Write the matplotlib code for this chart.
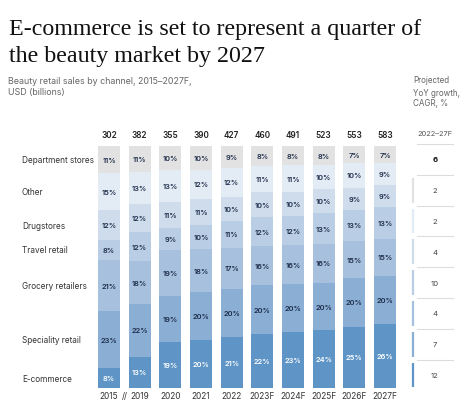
import numpy as np
import matplotlib.pyplot as plt
from matplotlib.lines import Line2D

# 데이터
years = ['2015', '2019', '2020', '2021', '2022', '2023F', '2024F', '2025F', '2026F', '2027F']
totals = [302, 382, 355, 390, 427, 460, 491, 523, 553, 583]

# 아래에서 위로 쌓는 순서
channels = ['E-commerce', 'Speciality retail', 'Grocery retailers', 'Travel retail',
            'Drugstores', 'Other', 'Department stores']
ecommerce = [8, 13, 19, 20, 21, 22, 23, 24, 25, 26]
speciality = [23, 22, 19, 20, 20, 20, 20, 20, 20, 20]
grocery = [21, 18, 19, 18, 17, 16, 16, 16, 15, 15]
travel = [8, 12, 9, 10, 11, 12, 12, 13, 13, 13]
drugstores = [12, 12, 11, 11, 10, 10, 10, 10, 9, 9]
other = [15, 13, 13, 12, 12, 11, 11, 10, 10, 9]
department = [11, 11, 10, 10, 9, 8, 8, 8, 7, 7]

# CAGR 2022-27F (위에서 아래: 전체, Department stores ... E-commerce)
cagr_total = 6
cagr = [2, 2, 4, 10, 4, 7, 12]

colors = ['#5f95c6', '#8aaed4', '#a6c0dd', '#b9cde4', '#cfdcec', '#e3ebf5', '#e2e2e2']
text_colors = ['white'] + ['#1c2b48'] * 6

W, H = 474, 410
fig = plt.figure(figsize=(W / 100, H / 100), dpi=100)
fig.patch.set_facecolor('white')

def fx(px):
    return px / W

def fy(py):
    return 1 - py / H

sans = ['Inter', 'DejaVu Sans']

# 제목
fig.text(fx(9), fy(35), 'E-commerce is set to represent a quarter of', family='Liberation Serif',
         fontsize=17.3, color='#111111', va='baseline')
fig.text(fx(9), fy(62), 'the beauty market by 2027', family='Liberation Serif',
         fontsize=17.3, color='#111111', va='baseline')
fig.text(fx(8), fy(82), 'Beauty retail sales by channel, 2015–2027F,', family=sans,
         fontsize=6.4, color='#666666', va='center')
fig.text(fx(8), fy(92), 'USD (billions)', family=sans, fontsize=6.4, color='#666666', va='center')
for txt, py in [('Projected', 81), ('YoY growth,', 93), ('CAGR, %', 104)]:
    fig.text(fx(413), fy(py), txt, family=sans, fontsize=5.8, color='#666666', va='center')

# 막대 차트
L, R = 93.7, 400.3
ax = fig.add_axes([fx(L), fy(389), (R - L) / W, (389 - 147) / H])
series = [ecommerce, speciality, grocery, travel, drugstores, other, department]
data = np.array(series, dtype=float)
shares = data / data.sum(axis=0) * 100
x = np.arange(len(years))
bottom = np.zeros(len(years))
for i in range(len(channels)):
    ax.bar(x, shares[i], 0.72, bottom=bottom, color=colors[i], linewidth=0)
    for j in range(len(years)):
        ax.text(x[j], bottom[j] + shares[i][j] / 2, f'{series[i][j]}%', ha='center', va='center',
                family=sans, fontsize=5.3, fontweight='semibold', color=text_colors[i])
    bottom += shares[i]

for j in range(len(years)):
    ax.text(x[j], 102.8, str(totals[j]), ha='center', va='bottom', family=sans,
            fontsize=5.9, fontweight='semibold', color='#222222')
    ax.text(x[j], -3.3, years[j], ha='center', va='center', family=sans,
            fontsize=6.0, color='#333333')
ax.text(0.5, -3.3, '//', ha='center', va='center', family=sans, fontsize=6.0, color='#333333')

# 왼쪽 채널 라벨 (첫 막대 구간 가운데)
cum = 0
for i in range(len(channels)):
    ax.text(-2.84, cum + shares[i][0] / 2, channels[i], ha='left', va='center', family=sans,
            fontsize=5.9, color='#333333', clip_on=False)
    cum += shares[i][0]

ax.set_xlim(-0.5, len(years) - 0.5)
ax.set_ylim(0, 100)
ax.axis('off')

# 오른쪽 CAGR 표
fig.text(fx(435), fy(134), '2022–27F', family=sans, fontsize=5.4, color='#555555',
         ha='center', va='center')
row_h = 30.8
line_y = [145 + k * row_h for k in range(8)]
for py in line_y:
    fig.add_artist(Line2D([fx(417), fx(453)], [fy(py), fy(py)], color='#dddddd', lw=0.8))
fig.text(fx(435), fy(160), str(cagr_total), family=sans, fontsize=5.6, fontweight='bold',
         color='#111111', ha='center', va='center')
marker_colors = colors[::-1]
for k in range(len(cagr)):
    top = line_y[k + 1]
    fig.text(fx(435), fy(top + row_h / 2), str(cagr[k]), family=sans, fontsize=5.6,
             color='#444444', ha='center', va='center')
    fig.add_artist(Line2D([fx(413), fx(413)], [fy(top + 3), fy(top + row_h - 3)],
                          color=marker_colors[k], lw=1.6, solid_capstyle='butt'))

fig.savefig('out.png', dpi=100, facecolor='white')
